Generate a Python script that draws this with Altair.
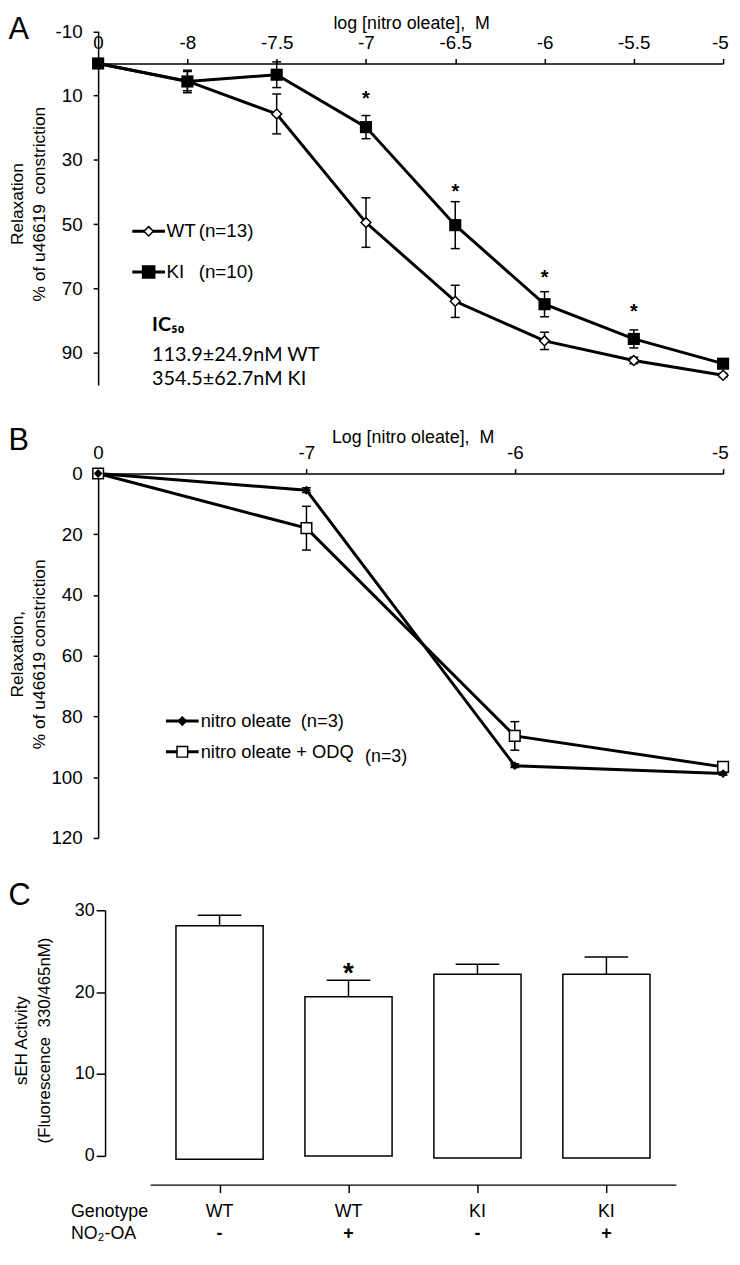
import altair as alt
import pandas as pd

FONT = "Liberation Sans"
NB = "\u00a0"

# ---------------- Panel A data ----------------
conc_a = ["0", "-8", "-7.5", "-7", "-6.5", "-6", "-5.5", "-5"]
wt_mean = [0, 5.5, 15.7, 49.5, 74.0, 86.3, 92.4, 97.0]
wt_sem = [0, 3.0, 6.2, 7.7, 5.0, 2.7, 1.0, 0.6]
ki_mean = [0, 5.6, 3.5, 19.8, 50.3, 74.9, 85.7, 93.4]
ki_sem = [0, 3.5, 4.0, 3.6, 7.3, 3.9, 2.8, 0.8]
star_conc_a = ["-7", "-6.5", "-6", "-5.5"]
star_y_a = [9.4, 38.4, 65.2, 75.9]
yticks_a = [-10, 10, 30, 50, 70, 90]
legend_a_names = ["WT", "KI"]
legend_a_n = ["(n=13)", "(n=10)"]
ic50_lines = ["IC₅₀", "113.9±24.9nM WT", "354.5±62.7nM KI"]
title_a = "log [nitro oleate]," + NB + " M"

# ---------------- Panel B data ----------------
conc_b = ["0", "-7", "-6", "-5"]
no_mean = [0, 5.5, 96.2, 98.8]
no_sem = [0, 0.8, 0.6, 0.5]
odq_mean = [0, 18.0, 86.4, 96.6]
odq_sem = [0, 7.2, 4.7, 0.6]
yticks_b = [0, 20, 40, 60, 80, 100, 120]
legend_b_names = ["nitro oleate", "nitro oleate + ODQ"]
legend_b_n = ["(n=3)", "(n=3)"]
title_b = "Log [nitro oleate]," + NB + " M"

# ---------------- Panel C data ----------------
genotype = ["WT", "WT", "KI", "KI"]
no2oa = ["-", "+", "-", "+"]
seh_mean = [28.1, 19.45, 22.2, 22.2]
seh_sem = [1.3, 2.0, 1.2, 2.1]
seh_base = [-0.4, 0.0, -0.25, -0.25]
seh_star = ["", "*", "", ""]
seh_star_y = [None, 23.2, None, None]
yticks_c = [0, 10, 20, 30]

W = 631
A_TOP = -32.45          # pixel position of y = -10 (above the x-axis line)
A_BOT = 324.55          # pixel position of y = 100
HA = 340.55
HB = 368
HC = 277
HC_RANGE = 248
TICK_FS = 19


def label(text, x, y, size=18, weight="normal", font=FONT, align="left",
          baseline="middle"):
    return alt.Chart(pd.DataFrame({"t": [text]})).mark_text(
        align=align, baseline=baseline, fontSize=size, fontWeight=weight,
        font=font, color="black"
    ).encode(text="t:N", x=alt.value(x), y=alt.value(y))


def legend_symbol(x1, x2, y, shape, size, fill):
    d = pd.DataFrame({"a": [0]})
    line = alt.Chart(d).mark_rule(strokeWidth=3, color="black").encode(
        x=alt.value(x1), x2=alt.value(x2), y=alt.value(y))
    pt = alt.Chart(d).mark_point(
        shape=shape, size=size, filled=True, fill=fill, stroke="black",
        strokeWidth=1.5, opacity=1
    ).encode(x=alt.value((x1 + x2) / 2), y=alt.value(y))
    return line + pt


# ================= Panel A =================
dfA = pd.DataFrame({
    "conc": conc_a + conc_a,
    "idx": list(range(len(conc_a))) * 2,
    "group": ["WT"] * len(conc_a) + ["KI"] * len(conc_a),
    "mean": wt_mean + ki_mean,
    "sem": wt_sem + ki_sem,
})
dfA["lo"] = dfA["mean"] - dfA["sem"]
dfA["hi"] = dfA["mean"] + dfA["sem"]

xA = alt.X(
    "conc:N", sort=conc_a, scale=alt.Scale(type="point", padding=0),
    axis=alt.Axis(orient="top", title=None,
                  labelBaseline="alphabetic", labelPadding=10.5, tickSize=5,
                  labelAngle=0, labelFontSize=TICK_FS,
                  labelFlush=True, labelFlushOffset=5.3))
yA_scale = alt.Scale(domain=[-10, 100], range=[A_TOP, A_BOT], nice=False, zero=False)
yA = alt.Y("lo:Q", scale=yA_scale,
           axis=alt.Axis(values=yticks_a, tickSize=5, labelPadding=11,
                         labelFontSize=TICK_FS, labelExpr="'' + datum.value",
                         title=["Relaxation", "% of u46619" + NB + " constriction"],
                         titleFontSize=17.5, titleX=-76, titleY=141.5,
                         titleBaseline="alphabetic", titleLineHeight=22,
                         titleAngle=270, titleAlign="center"))

baseA = alt.Chart(dfA)
errA = baseA.mark_rule(strokeWidth=1.5, color="black").encode(x=xA, y=yA, y2="hi:Q")
capA_lo = baseA.mark_tick(size=9, thickness=1.5, color="black", orient="horizontal",
                          opacity=1).encode(
    x=alt.X("conc:N", sort=conc_a), y=alt.Y("lo:Q", scale=yA_scale))
capA_hi = baseA.mark_tick(size=9, thickness=1.5, color="black", orient="horizontal",
                          opacity=1).encode(
    x=alt.X("conc:N", sort=conc_a), y=alt.Y("hi:Q", scale=yA_scale))
lineA = baseA.mark_line(strokeWidth=3, color="black").encode(
    x=alt.X("conc:N", sort=conc_a), y=alt.Y("mean:Q", scale=yA_scale),
    detail="group:N", order="idx:Q")
wtA = alt.Chart(dfA[dfA.group == "WT"]).mark_point(
    shape="diamond", size=100, filled=True, fill="white", stroke="black",
    strokeWidth=1.5, opacity=1).encode(
    x=alt.X("conc:N", sort=conc_a), y=alt.Y("mean:Q", scale=yA_scale))
kiA = alt.Chart(dfA[dfA.group == "KI"]).mark_point(
    shape="square", size=150, filled=True, color="black", opacity=1).encode(
    x=alt.X("conc:N", sort=conc_a), y=alt.Y("mean:Q", scale=yA_scale))
starA = alt.Chart(pd.DataFrame({"conc": star_conc_a, "y": star_y_a, "t": ["*"] * 4})).mark_text(
    fontSize=20, fontWeight="bold", font=FONT, baseline="alphabetic", dy=11,
    color="black").encode(
    x=alt.X("conc:N", sort=conc_a), y=alt.Y("y:Q", scale=yA_scale), text="t:N")

legA = (legend_symbol(34.5, 67.5, 169.5, "diamond", 90, "white")
        + legend_symbol(34.5, 67.5, 210.5, "square", 150, "black")
        + label(legend_a_names[0], 69, 169.5, size=19)
        + label(legend_a_n[0], 101.5, 169.5, size=19)
        + label(legend_a_names[1], 69, 210.5, size=19)
        + label(legend_a_n[1], 101.5, 210.5, size=19))
icA = (label(ic50_lines[0], 54.5, 264.5, size=20, weight="bold", font="Lato")
       + label(ic50_lines[1], 54.5, 294.5, size=20, font="Lato")
       + label(ic50_lines[2], 54.5, 318.5, size=20, font="Lato"))
letterA = label("A", -90.5, -24.5, size=31, baseline="alphabetic")
titleA = label(title_a, 316.5, -35, size=18, align="center", baseline="alphabetic")

panelA = alt.layer(errA, capA_lo, capA_hi, lineA, wtA, kiA, starA, legA, icA,
                   letterA, titleA).properties(width=W, height=HA)

# ================= Panel B =================
dfB = pd.DataFrame({
    "conc": conc_b + conc_b,
    "idx": list(range(len(conc_b))) * 2,
    "group": ["NO"] * len(conc_b) + ["ODQ"] * len(conc_b),
    "mean": no_mean + odq_mean,
    "sem": no_sem + odq_sem,
})
dfB["lo"] = dfB["mean"] - dfB["sem"]
dfB["hi"] = dfB["mean"] + dfB["sem"]

xB = alt.X(
    "conc:N", sort=conc_b, scale=alt.Scale(type="point", padding=0),
    axis=alt.Axis(orient="top", title=None,
                  labelBaseline="alphabetic", labelPadding=10, tickSize=5,
                  labelAngle=0, labelFontSize=TICK_FS,
                  labelFlush=True, labelFlushOffset=5.3))
yB_scale = alt.Scale(domain=[0, 120], range=[0, HB], nice=False, zero=False)
yB = alt.Y("lo:Q", scale=yB_scale,
           axis=alt.Axis(values=yticks_b, tickSize=5, labelPadding=11,
                         labelFontSize=TICK_FS, labelExpr="'' + datum.value",
                         title=["Relaxation,", "% of u46619 constriction"],
                         titleFontSize=17.5, titleX=-76, titleY=182,
                         titleBaseline="alphabetic", titleLineHeight=22,
                         titleAngle=270, titleAlign="center"))
baseB = alt.Chart(dfB)
errB = baseB.mark_rule(strokeWidth=1.5, color="black").encode(x=xB, y=yB, y2="hi:Q")
capB_lo = baseB.mark_tick(size=9, thickness=1.5, color="black", orient="horizontal",
                          opacity=1).encode(
    x=alt.X("conc:N", sort=conc_b), y=alt.Y("lo:Q", scale=yB_scale))
capB_hi = baseB.mark_tick(size=9, thickness=1.5, color="black", orient="horizontal",
                          opacity=1).encode(
    x=alt.X("conc:N", sort=conc_b), y=alt.Y("hi:Q", scale=yB_scale))
lineB = baseB.mark_line(strokeWidth=3, color="black").encode(
    x=alt.X("conc:N", sort=conc_b), y=alt.Y("mean:Q", scale=yB_scale),
    detail="group:N", order="idx:Q")
noB = alt.Chart(dfB[dfB.group == "NO"]).mark_point(
    shape="diamond", size=80, filled=True, color="black", opacity=1).encode(
    x=alt.X("conc:N", sort=conc_b), y=alt.Y("mean:Q", scale=yB_scale))
odqB = alt.Chart(dfB[dfB.group == "ODQ"]).mark_point(
    shape="square", size=115, filled=True, fill="white", stroke="black",
    strokeWidth=1.5, opacity=1).encode(
    x=alt.X("conc:N", sort=conc_b), y=alt.Y("mean:Q", scale=yB_scale))
legB = (legend_symbol(68.5, 101.5, 250, "diamond", 70, "black")
        + legend_symbol(68.5, 101.5, 281, "square", 115, "white")
        + label(legend_b_names[0], 103.5, 250, size=18.5)
        + label(legend_b_n[0], 204.5, 250, size=18.5)
        + label(legend_b_names[1], 103.5, 281, size=18.5)
        + label(legend_b_n[1], 269.5, 286, size=18))
letterB = label("B", -90.5, -24, size=31, baseline="alphabetic")
titleB = label(title_b, 318, -31, size=18, align="center", baseline="alphabetic")

panelB = alt.layer(errB, capB_lo, capB_hi, lineB, odqB, noB, legB,
                   letterB, titleB).properties(width=W, height=HB)

# ================= Panel C =================
dfC = pd.DataFrame({
    "pos": list(range(1, len(genotype) + 1)),
    "genotype": genotype,
    "no2oa": no2oa,
    "mean": seh_mean,
    "sem": seh_sem,
    "base": seh_base,
    "star": seh_star,
    "star_y": seh_star_y,
})
dfC["hi"] = dfC["mean"] + dfC["sem"]

xC_scale = alt.Scale(domain=[0.5, 4.5], range=[52.5, 583.3], nice=False, zero=False)
xC = alt.X("pos:Q", scale=xC_scale,
           axis=alt.Axis(values=list(range(1, len(genotype) + 1)), labels=False,
                         tickSize=8, title=None))
yC_scale = alt.Scale(domain=[0, 30], range=[HC_RANGE, 0], nice=False, zero=False)
yC = alt.Y("mean:Q", scale=yC_scale,
           axis=alt.Axis(values=yticks_c, tickSize=9, labelPadding=2, offset=-7,
                         labelFontSize=18,
                         title=["sEH Activity", "(Fluorescence" + NB + " 330/465nM)"],
                         titleFontSize=17, titleX=-79.5, titleY=131,
                         titleBaseline="alphabetic", titleLineHeight=23,
                         titleAngle=270, titleAlign="center"))
baseC = alt.Chart(dfC)
barsC = baseC.mark_bar(size=88, fill="white", stroke="black", strokeWidth=1.5,
                       opacity=1).encode(x=xC, y=yC, y2="base:Q")
errC = baseC.mark_rule(strokeWidth=1.5, color="black").encode(
    x=alt.X("pos:Q", scale=xC_scale), y=alt.Y("mean:Q", scale=yC_scale), y2="hi:Q")
capC = baseC.mark_tick(size=44, thickness=1.5, color="black", orient="horizontal",
                       opacity=1).encode(
    x=alt.X("pos:Q", scale=xC_scale), y=alt.Y("hi:Q", scale=yC_scale))
starC = alt.Chart(dfC[dfC.star != ""]).mark_text(
    fontSize=28, fontWeight="bold", font=FONT, baseline="alphabetic", dy=16,
    color="black").encode(
    x=alt.X("pos:Q", scale=xC_scale), y=alt.Y("star_y:Q", scale=yC_scale),
    text="star:N")
genoC = baseC.mark_text(fontSize=18, font=FONT, color="black", baseline="middle").encode(
    x=alt.X("pos:Q", scale=xC_scale), y=alt.value(305), text="genotype:N")
treatC = baseC.mark_text(fontSize=18, fontWeight="bold", font=FONT, color="black",
                         baseline="middle").encode(
    x=alt.X("pos:Q", scale=xC_scale), y=alt.value(327), text="no2oa:N")
rowC = (label("Genotype", -27.5, 305, size=18)
        + label("NO₂-OA", -27.5, 327, size=18))
letterC = label("C", -90.5, -5, size=31, baseline="alphabetic")

panelC = alt.layer(barsC, errC, capC, starC, genoC, treatC, rowC,
                   letterC).properties(width=W, height=HC)

chart = alt.vconcat(panelA, panelB, panelC, spacing=73, bounds="flush").properties(
    padding={"left": 0, "top": 0, "right": 0, "bottom": 0}
).configure_view(stroke=None).configure_axis(
    grid=False, domainColor="black", tickColor="black", labelColor="black",
    titleColor="black", domainWidth=1.5, tickWidth=1.5, labelFont=FONT,
    titleFont=FONT, titleFontWeight="normal"
).configure_text(font=FONT)

chart.save("out.html", embed_options={"renderer": "svg", "actions": False})
